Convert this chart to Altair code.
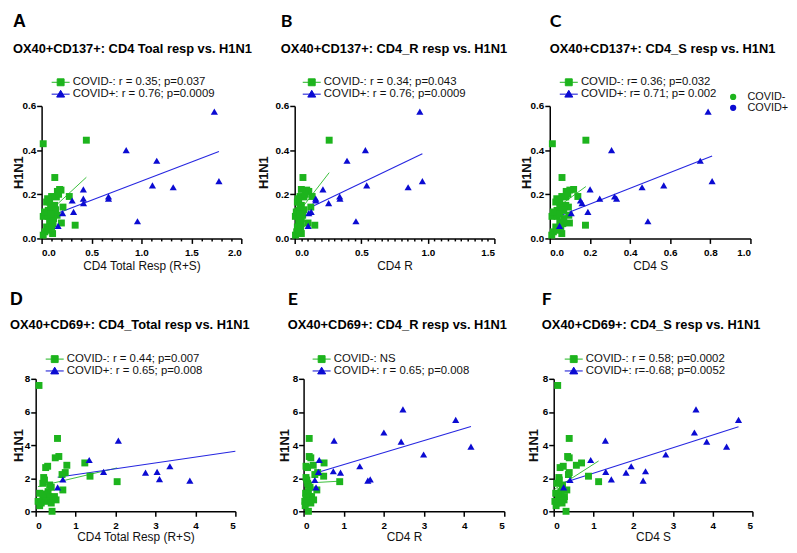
import altair as alt
import pandas as pd

GREEN = "#1db41d"
BLUE = "#0b0bd2"
LINE_GREEN = "#3cbf3c"
LINE_BLUE = "#2626e0"
FONT = "Liberation Sans"

# ---------------- data ----------------
# top row (OX40+CD137+), y = H1N1
yN_top = [0.429, 0.445, 0.276, 0.222, 0.219, 0.213, 0.190, 0.188, 0.190, 0.165, 0.165, 0.150,
          0.142, 0.127, 0.127, 0.100, 0.100, 0.105, 0.075, 0.070, 0.060, 0.052, 0.067, 0.030,
          0.022, 0.015, 0.037, 0.120, 0.140, 0.090, 0.180, 0.050, 0.130, 0.200, 0.110]
xA_N = [0.016, 0.448, 0.132, 0.180, 0.194, 0.158, 0.277, 0.148, 0.100, 0.050, 0.080, 0.130,
        0.214, 0.066, 0.115, 0.016, 0.066, 0.155, 0.080, 0.198, 0.336, 0.050, 0.115, 0.033,
        0.110, 0.016, 0.066, 0.030, 0.090, 0.120, 0.060, 0.100, 0.140, 0.170, 0.090]
xB_N = [None, 0.259, 0.062, 0.050, 0.090, 0.106, 0.131, 0.070, 0.040, 0.020, 0.030, 0.050,
        0.121, 0.030, 0.050, 0.005, 0.030, 0.060, 0.030, 0.100, 0.151, 0.020, 0.050, 0.015,
        0.050, 0.006, 0.030, 0.012, 0.040, 0.050, 0.025, 0.045, 0.070, 0.080, 0.040]
xC_N = [0.013, 0.180, 0.061, 0.119, 0.100, 0.082, 0.140, 0.080, 0.060, 0.030, 0.050, 0.080,
        0.093, 0.036, 0.065, 0.011, 0.036, 0.095, 0.050, 0.098, 0.178, 0.030, 0.065, 0.018,
        0.060, 0.010, 0.036, 0.018, 0.050, 0.070, 0.035, 0.055, 0.070, 0.090, 0.050]
yP_top = [0.574, 0.400, 0.352, 0.260, 0.240, 0.232, 0.222, 0.190, 0.180, 0.180, 0.172, 0.160,
          0.120, 0.115, 0.078, 0.057]
xA_P = [1.730, 0.847, 1.153, 1.776, 1.110, 1.318, 0.418, 0.670, 0.670, 0.418, 0.306, 0.420,
        0.320, 0.210, 0.960, 0.165]
xB_P = [0.940, 0.531, 0.393, 0.959, 0.541, 0.852, 0.212, 0.338, 0.340, 0.158, 0.158, 0.255,
        0.124, 0.106, 0.460, 0.101]
xC_P = [0.789, 0.308, 0.750, 0.809, 0.568, 0.460, 0.201, 0.323, 0.333, 0.249, 0.153, 0.161,
        0.190, 0.107, 0.489, 0.049]

# bottom row (OX40+CD69+)
yN_bot = [7.60, 4.40, 3.31, 3.23, 2.92, 2.78, 2.72, 2.64, 2.34, 2.22, 2.12, 2.04, 1.89, 1.79,
          1.69, 1.59, 1.45, 1.29, 1.19, 1.09, 1.05, 0.89, 0.89, 0.79, 0.69, 0.60, 0.60, 0.50,
          0.50, 0.34, 0.00]
xD_N = [0.083, 0.546, 0.58, 0.49, 1.23, 0.78, 0.30, 0.25, 0.74, 0.66, 1.36, 0.20, 0.22, 2.04,
        0.18, 0.35, 0.39, 0.68, 0.31, 0.10, 0.22, 0.33, 0.47, 0.18, 0.51, 0.06, 0.26, 0.14,
        0.39, 0.10, 0.41]
xE_N = [None, 0.14, 0.14, 0.18, 0.51, 0.24, 0.06, 0.10, 0.35, 0.28, 0.50, 0.06, 0.08, 0.90,
        0.10, 0.12, 0.16, 0.33, 0.12, 0.05, 0.10, 0.15, 0.20, 0.06, 0.25, 0.03, 0.10, 0.06,
        0.18, 0.04, 0.12]
xF_N = [0.10, 0.39, 0.35, 0.39, 0.70, 0.57, 0.24, 0.16, 0.39, 0.37, 0.875, 0.13, 0.14, 1.13,
        0.08, 0.22, 0.22, 0.33, 0.18, 0.05, 0.12, 0.18, 0.27, 0.12, 0.26, 0.03, 0.16, 0.08,
        0.21, 0.06, 0.31]
yP_D = [4.27, 3.10, 2.38, 2.34, 2.38, 1.94, 2.72, 1.85, 1.92, 1.45]
xD_P = [2.07, 1.34, 1.70, 2.75, 3.04, 3.10, 3.36, 3.86, 0.68, 0.55]
yP_EF = [6.15, 5.52, 4.76, 4.21, 4.27, 3.91, 3.43, 2.72, 3.10, 2.42, 2.34, 1.85, 1.93, 2.38,
         1.89, 1.45]
xE_P = [2.475, 3.79, 2.00, 2.43, 0.76, 4.17, 2.99, 1.40, 0.39, 0.74, 0.92, 1.60, 1.66, 0.37,
        0.28, 0.31]
xF_P = [3.58, 4.65, 3.54, 3.85, 1.30, 4.35, 2.82, 1.95, 0.93, 2.31, 1.82, 2.25, 1.45, 1.31,
        0.41, 0.25]

# fitted lines (end points, data units)
fitA_N = ([0.016, 0.448], [0.096, 0.277]); fitA_P = ([0.165, 1.776], [0.1155, 0.394])
fitB_N = ([0.003, 0.259], [0.098, 0.298]); fitB_P = ([0.101, 0.959], [0.136, 0.384])
fitC_N = ([0.010, 0.180], [0.123, 0.235]); fitC_P = ([0.049, 0.809], [0.102, 0.373])
fitD_N = ([0.058, 2.04], [1.49, 2.62]);    fitD_P = ([0.55, 5.0], [2.06, 3.63])
fitE_N = ([0.03, 0.90], [1.70, 1.82]);     fitE_P = ([0.28, 4.17], [2.30, 5.12])
fitF_N = ([0.02, 1.13], [1.33, 3.04]);     fitF_P = ([0.25, 4.65], [1.73, 5.10])

legA = ["COVID-: r = 0.35; p=0.037", "COVID+: r = 0.76; p=0.0009"]
legB = ["COVID-: r = 0.34; p=0.043", "COVID+: r = 0.76; p=0.0009"]
legC = ["COVID-: r= 0.36; p=0.032", "COVID+: r= 0.71; p= 0.002"]
legD = ["COVID-: r = 0.44; p=0.007", "COVID+: r = 0.65; p=0.008"]
legE = ["COVID-: NS", "COVID+: r = 0.65; p=0.008"]
legF = ["COVID-: r = 0.58; p=0.0002", "COVID+: r=-0.68; p=0.0052"]
groups = ["COVID-", "COVID+"]

titles = ["OX40+CD137+: CD4 Toal resp vs. H1N1", "OX40+CD137+: CD4_R resp vs. H1N1",
          "OX40+CD137+: CD4_S resp vs. H1N1", "OX40+CD69+: CD4_Total resp vs. H1N1",
          "OX40+CD69+: CD4_R resp vs. H1N1", "OX40+CD69+: CD4_S resp vs. H1N1"]
letters = ["A", "B", "C", "D", "E", "F"]
xtitles = ["CD4 Total Resp (R+S)", "CD4 R", "CD4 S", "CD4 Total Resp (R+S)", "CD4 R", "CD4 S"]

SQ_PATH = "M-2.6,0H2.6M-1,-1H1V1H-1Z"
TRI_PATH = "M-2.6,0H2.6M0,-1.1L1.15,0.85H-1.15Z"

TOP = dict(height=134, ly=-29.7, offset=20.4, subpad=12.4, lpad=4, tpad=3)
BOT = dict(height=134, ly=-25.7, offset=21.4, subpad=10.4, lpad=4, tpad=2)


def panel(i, row, xn, yn, xp, yp, fn, fp, labels, xdom, xvals, xfmt, ydom, yvals, yfmt,
          width, xrange, yoff, ytx, dx, lx, letter_font, minor=None, extra=False):
    rows = []
    for x, y in zip(xn, yn):
        if x is not None:
            rows.append({"x": x, "y": y, "grp": "neg", "lab": labels[0], "g2": groups[0]})
    for x, y in zip(xp, yp):
        rows.append({"x": x, "y": y, "grp": "pos", "lab": labels[1], "g2": groups[1]})
    pts = pd.DataFrame(rows)
    lines = pd.DataFrame({"x": fn[0] + fp[0], "y": fn[1] + fp[1],
                          "grp": ["neg", "neg", "pos", "pos"]})

    xs = alt.Scale(domain=xdom, range=xrange, nice=False, zero=False)
    ys = alt.Scale(domain=ydom, nice=False, zero=False)
    xenc = alt.X("x:Q", scale=xs, axis=alt.Axis(values=xvals, format=xfmt, title=xtitles[i],
                                                orient="bottom", labelPadding=row["lpad"],
                                                titlePadding=row["tpad"]))
    yenc = alt.Y("y:Q", scale=ys, axis=alt.Axis(values=yvals, format=yfmt, title="H1N1",
                                                offset=yoff, titleX=ytx))
    leg = alt.Legend(orient="none", legendX=lx, legendY=row["ly"], title=None, padding=0,
                     rowPadding=-3.5, symbolSize=49, symbolStrokeWidth=1, symbolOffset=0,
                     labelFont=FONT, labelFontSize=11.5, labelColor="#111",
                     labelOffset=6.5, labelLimit=400)
    legend_layer = alt.Chart(pts).transform_filter("false").mark_point(
        filled=True, opacity=1).encode(
        x=xenc, y=yenc,
        fill=alt.Fill("lab:N", scale=alt.Scale(domain=labels, range=[GREEN, BLUE]), legend=leg),
        stroke=alt.Stroke("lab:N", scale=alt.Scale(domain=labels, range=[GREEN, BLUE]),
                          legend=leg),
        shape=alt.Shape("lab:N", scale=alt.Scale(domain=labels, range=[SQ_PATH, TRI_PATH]),
                        legend=leg),
    )
    layers = [legend_layer]
    if extra:
        leg2 = alt.Legend(orient="none", legendX=180, legendY=-14.6, title=None, padding=0,
                          rowPadding=-3.5, symbolSize=40, symbolType="circle",
                          labelFont=FONT, labelFontSize=11, labelColor="#111",
                          labelOffset=9)
        layers.append(alt.Chart(pts).transform_filter("false").mark_circle(
            size=40, opacity=1).encode(
            x=xenc, y=yenc,
            color=alt.Color("g2:N", scale=alt.Scale(domain=groups, range=[GREEN, BLUE]),
                            legend=leg2)))
    gl = alt.Chart(lines).transform_filter("datum.grp == 'neg'").mark_line(
        color=LINE_GREEN, strokeWidth=1).encode(x=xenc, y=yenc)
    bl = alt.Chart(lines).transform_filter("datum.grp == 'pos'").mark_line(
        color=LINE_BLUE, strokeWidth=1.1).encode(x=xenc, y=yenc)
    gp = alt.Chart(pts).transform_filter("datum.grp == 'neg'").mark_point(
        shape="square", filled=True, size=49, opacity=1, color=GREEN).encode(x=xenc, y=yenc)
    bp = alt.Chart(pts).transform_filter("datum.grp == 'pos'").mark_point(
        shape="triangle-up", filled=True, size=52, opacity=1, color=BLUE).encode(x=xenc, y=yenc)
    layers += [gl, bl, gp, bp]
    ch = alt.layer(*layers)
    if minor is not None:
        minor_layer = alt.Chart(pts).transform_filter("false").mark_point().encode(
            x=alt.X("x:Q", scale=xs, axis=alt.Axis(values=minor, labels=False, domain=False,
                                                 tickSize=2.5, title=None, orient="bottom")),
            y=yenc)
        ch = alt.layer(ch, minor_layer).resolve_axis(x="independent")
    return ch.properties(
        width=width, height=row["height"],
        title=alt.TitleParams(
            text=letters[i], subtitle=titles[i], anchor="start", frame="group", dx=dx,
            font=letter_font, fontSize=18, fontWeight="bold", color="#000",
            subtitleFont=FONT, subtitleFontSize=13, subtitleFontWeight="bold",
            subtitleColor="#000", subtitlePadding=row["subpad"], offset=row["offset"]),
    )


top_y = [0, 0.2, 0.4, 0.6]
bot_y = [0, 2, 4, 6, 8]
# column groups: col0 page x 33, col1 295, col2 553 (axes shifted inside by range offset)
pA = panel(0, TOP, xA_N, yN_top, xA_P, yP_top, fitA_N, fitA_P, legA, [0, 2],
           [0, 0.5, 1, 1.5, 2], ".1f", [0, 0.6], top_y, ".1f",
           216, [6, 208], -6, -16, -23, 19.5, FONT,
           minor=[0.1, 0.2, 0.3, 0.4, 0.6, 0.7, 0.8, 0.9, 1.1, 1.2, 1.3, 1.4, 1.6, 1.7, 1.8, 1.9])
pB = panel(1, TOP, xB_N, yN_top, xB_P, yP_top, fitB_N, fitB_P, legB, [0, 1.5],
           [0, 0.5, 1, 1.5], ".1f", [0, 0.6], top_y, ".1f",
           212, [0, 202], 0, -24, -14, 11.5, "Lato",
           minor=[0.05, 0.1, 0.15, 0.2, 0.25, 0.3, 0.35, 0.4, 0.45, 0.55, 0.6, 0.65, 0.7, 0.75,
                  0.8, 0.85, 0.9, 0.95, 1.05, 1.1, 1.15, 1.2, 1.25, 1.3, 1.35, 1.4, 1.45])
pC = panel(2, TOP, xC_N, yN_top, xC_P, yP_top, fitC_N, fitC_P, legC, [0, 1],
           [0, 0.2, 0.4, 0.6, 0.8, 1.0], ".1f", [0, 0.6], top_y, ".1f",
           203, [0, 203], 0, -16, 0, 13.5, "Lato", extra=True)
pD = panel(3, BOT, xD_N, yN_bot, xD_P, yP_D, fitD_N, fitD_P, legD, [0, 5],
           [0, 1, 2, 3, 4, 5], "d", [0, 8], bot_y, "d",
           216, [0, 202], 0, -10, -26, 13.5, FONT)
pE = panel(4, BOT, xE_N, yN_bot, xE_P, yP_EF, fitE_N, fitE_P, legE, [0, 5],
           [0, 1, 2, 3, 4, 5], "d", [0, 8], bot_y, "d",
           212, [9, 212], -9, -12, -7, 21.5, "Lato")
pF = panel(5, BOT, xF_N, yN_bot, xF_P, yP_EF, fitF_N, fitF_P, legF, [0, 5],
           [0, 1, 2, 3, 4, 5], "d", [0, 8], bot_y, "d",
           205, [4, 205], -4, -13, -8, 18.5, "Lato")

chart = alt.concat(pA, pB, pC, pD, pE, pF, columns=3,
                   spacing={"row": 142, "column": 46}, bounds="flush", align="none")
chart = chart.resolve_scale(
    x="independent", y="independent", fill="independent", stroke="independent",
    shape="independent", color="independent",
).properties(
    padding={"left": 2, "top": 2, "right": 0, "bottom": 0}
).configure_view(stroke=None).configure_axis(
    domainColor="#000", domainWidth=1.5, tickColor="#000", tickWidth=1.5, tickSize=5,
    labelFont=FONT, labelFontWeight="bold", labelFontSize=10, labelColor="#000",
    grid=False, titleFont=FONT, titleColor="#111",
).configure_axisX(titleFontWeight="normal", titleFontSize=12
).configure_axisY(labelPadding=1, titleFontWeight="bold", titleFontSize=13, titlePadding=3)

chart.save("out.html", embed_options={"renderer": "svg", "actions": False})
